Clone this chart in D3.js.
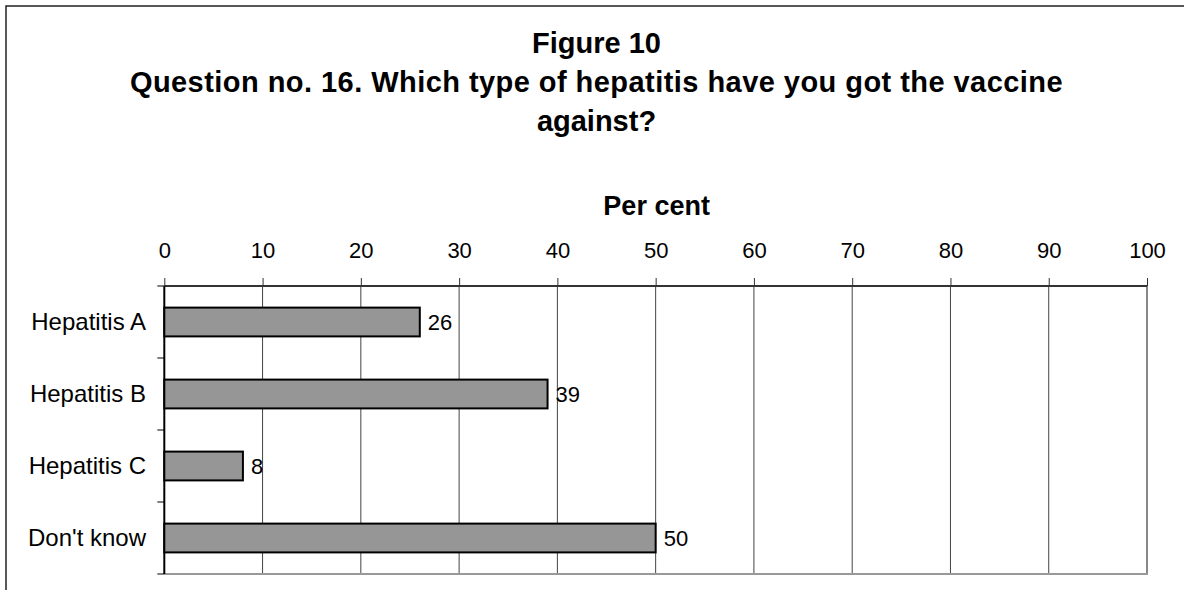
<!DOCTYPE html>
<html>
<head>
<meta charset="utf-8">
<script src="https://cdn.jsdelivr.net/npm/d3@7"></script>
<style>
  html, body { margin: 0; padding: 0; background: #fff; }
  svg { display: block; font-family: Arial, "Liberation Sans", sans-serif; }
</style>
</head>
<body>
<script>
const categories = ["Hepatitis A", "Hepatitis B", "Hepatitis C", "Don't know"];
const values = [26, 39, 8, 50];
const xTicks = [0, 10, 20, 30, 40, 50, 60, 70, 80, 90, 100];
const titleLines = ["Figure 10", "Question no. 16. Which type of hepatitis have you got the vaccine", "against?"];
const axisTitle = "Per cent";

const W = 1184, H = 590;
const plot = { left: 164.3, right: 1147, top: 286, bottom: 574 };

const svg = d3.select("body").append("svg").attr("width", W).attr("height", H);

// outer frame
svg.append("rect").attr("x", 6).attr("y", 6).attr("width", W + 20).attr("height", H + 20)
  .attr("fill", "none").attr("stroke", "#222").attr("stroke-width", 1.5);

// title
svg.append("g").selectAll("text").data(titleLines).join("text")
  .attr("x", 596.5).attr("y", (d, i) => 53 + i * 39)
  .attr("text-anchor", "middle").attr("font-weight", "bold").attr("font-size", 29)
  .attr("letter-spacing", (d, i) => i === 1 ? 0.45 : 0)
  .attr("fill", "#000").text(d => d);

const x = d3.scaleLinear().domain([0, 100]).range([plot.left, plot.right]);
const y = d3.scaleBand().domain(categories).range([plot.top, plot.bottom]).paddingInner(0.6).paddingOuter(0.3);

// gridlines
svg.append("g").selectAll("line").data(xTicks.slice(1, -1)).join("line")
  .attr("x1", d => x(d)).attr("x2", d => x(d))
  .attr("y1", plot.top).attr("y2", plot.bottom)
  .attr("stroke", "#444").attr("stroke-width", 1);

// right and bottom plot borders (grey)
svg.append("line").attr("x1", x(100)).attr("x2", x(100)).attr("y1", plot.top).attr("y2", plot.bottom)
  .attr("stroke", "#888").attr("stroke-width", 2);
svg.append("line").attr("x1", plot.left).attr("x2", x(100) + 1).attr("y1", plot.bottom).attr("y2", plot.bottom)
  .attr("stroke", "#999").attr("stroke-width", 2);

// top axis
const xAxis = d3.axisTop(x).tickValues(xTicks).tickSize(8).tickPadding(20).tickFormat(d3.format("d"));
const gx = svg.append("g").attr("transform", `translate(0,${plot.top})`).call(xAxis);
gx.select(".domain").attr("stroke", "#333").attr("stroke-width", 2).attr("d", `M${plot.left},0H${plot.right}`);
gx.selectAll(".tick line").attr("stroke", "#333").attr("stroke-width", 1);
gx.selectAll(".tick text").attr("font-size", 22).attr("font-family", "Arial, 'Liberation Sans', sans-serif")
  .attr("fill", "#000");

// axis title
svg.append("text").attr("x", (plot.left + plot.right) / 2 + 1).attr("y", 215)
  .attr("text-anchor", "middle").attr("font-weight", "bold").attr("font-size", 27).text(axisTitle);

// left axis: line with ticks at category boundaries
const boundaries = d3.range(categories.length + 1).map(i => plot.top + i * (plot.bottom - plot.top) / categories.length);
svg.append("line").attr("x1", plot.left).attr("x2", plot.left).attr("y1", plot.top).attr("y2", plot.bottom)
  .attr("stroke", "#000").attr("stroke-width", 2);
svg.append("g").selectAll("line").data(boundaries).join("line")
  .attr("x1", plot.left - 7).attr("x2", plot.left).attr("y1", d => d).attr("y2", d => d)
  .attr("stroke", "#000").attr("stroke-width", 1);

// category labels
svg.append("g").selectAll("text").data(categories).join("text")
  .attr("x", 146).attr("y", d => y(d) + y.bandwidth() / 2)
  .attr("dy", "0.35em").attr("text-anchor", "end").attr("font-size", 24).text(d => d);

// bars
svg.append("g").selectAll("rect").data(values).join("rect")
  .attr("x", x(0)).attr("y", (d, i) => y(categories[i]))
  .attr("width", d => x(d) - x(0)).attr("height", y.bandwidth())
  .attr("fill", "#969696").attr("stroke", "#000").attr("stroke-width", 2);

// value labels
svg.append("g").selectAll("text").data(values).join("text")
  .attr("x", d => x(d) + 8).attr("y", (d, i) => y(categories[i]) + y.bandwidth() / 2)
  .attr("dy", "0.35em").attr("font-size", 22).text(d => d);
</script>
</body>
</html>
